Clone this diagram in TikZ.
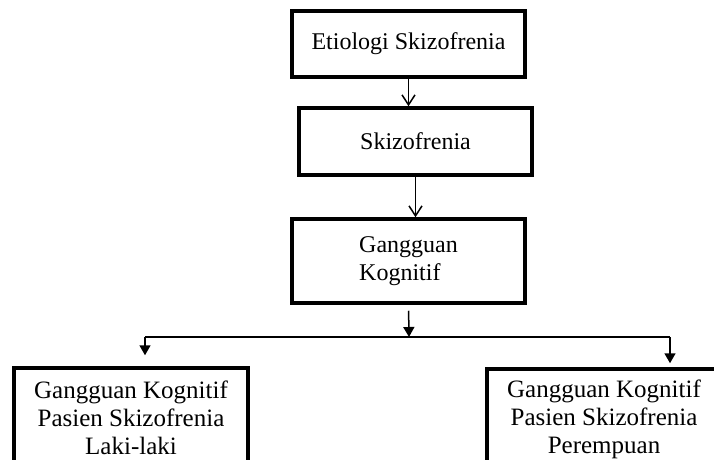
\documentclass[tikz,border=0pt]{standalone}
\usepackage{fontspec}
\setmainfont{Liberation Serif}
\usetikzlibrary{arrows.meta}
\tikzset{
    block/.style = {draw, rectangle, line width=1.4pt,
        minimum width=93.2pt, align=center,
        font=\fontsize{9.6}{11.2}\selectfont},
    wide/.style = {block, minimum width=93.6pt, minimum height=40pt,
        font=\fontsize{10}{11.2}\selectfont},
    arrow/.style = {draw, line width=0.6pt, -{Straight Barb[length=4pt,width=5.2pt]}},
    farrow/.style = {draw, line width=0.6pt, -{Triangle[length=4pt,width=4.4pt]}}
}

\begin{document}
\begin{tikzpicture}
        \useasboundingbox (0,0) rectangle (285.6pt,-184pt);
        \node [block, minimum height=26.4pt] (etio) at (163.4pt,-17.6pt) {Etiologi Skizofrenia};
        \node [block, minimum height=26.8pt, below of=etio, node distance=39pt, xshift=2.8pt] (skz) {Skizofrenia};
        \draw[arrow] (etio.south) -- (etio.south |- skz.north);
        \node [block, minimum height=33.6pt, align=left,
               below of=skz, node distance=47.8pt, xshift=-2.8pt] (kog) {\fontsize{9.6}{9.2}\selectfont Gangguan\\Kognitif};
        \draw[arrow] (skz.south) -- (skz.south |- kog.north);
        \coordinate (split) at (163.6pt,-134.8pt);
        \draw[farrow, shorten <=2.4pt] (kog.south) -- (split);
        \node [wide] (laki) at (52.4pt,-167.2pt) {Gangguan Kognitif\\Pasien Skizofrenia\\Laki-laki};
        \node [wide] (pr) at (241.6pt,-167.6pt) {Gangguan Kognitif\\Pasien Skizofrenia\\Perempuan};
        \coordinate (lft) at (58pt,-134.8pt);
        \coordinate (rgt) at (268pt,-134.8pt);
        \draw[line width=0.6pt] (lft) -- (rgt);
        \draw[farrow, shorten >=4.4pt] (lft) -- (lft |- laki.north);
        \draw[farrow, shorten >=1.6pt] (rgt) -- (rgt |- pr.north);
\end{tikzpicture}
\end{document}
